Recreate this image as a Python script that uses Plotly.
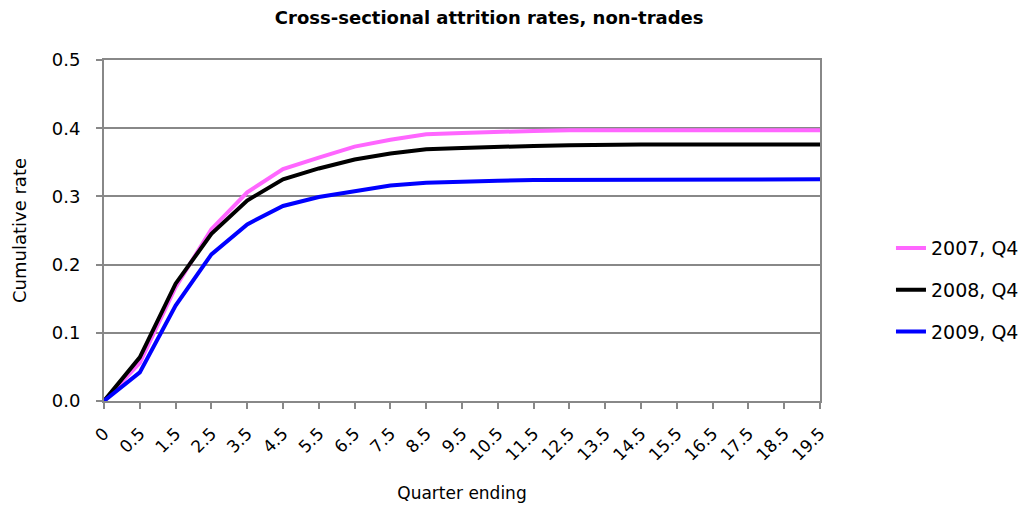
import plotly.graph_objects as go

categories = ["0", "0.5", "1.5", "2.5", "3.5", "4.5", "5.5", "6.5", "7.5", "8.5", "9.5",
              "10.5", "11.5", "12.5", "13.5", "14.5", "15.5", "16.5", "17.5", "18.5", "19.5"]
s2007 = [0, 0.056, 0.167, 0.252, 0.306, 0.340, 0.357, 0.373, 0.383, 0.391, 0.393,
         0.395, 0.396, 0.397, 0.397, 0.397, 0.397, 0.397, 0.397, 0.397, 0.397]
s2008 = [0, 0.064, 0.172, 0.245, 0.294, 0.325, 0.341, 0.354, 0.363, 0.369, 0.371,
         0.373, 0.374, 0.375, 0.376, 0.376, 0.376, 0.376, 0.376, 0.376, 0.376]
s2009 = [0, 0.042, 0.140, 0.215, 0.259, 0.286, 0.299, 0.308, 0.316, 0.320, 0.322,
         0.323, 0.324, 0.324, 0.324, 0.324, 0.324, 0.325, 0.325, 0.325, 0.325]
series_names = ["2007, Q4", "2008, Q4", "2009, Q4"]
colors = ["#FF66FF", "#000000", "#0000FF"]

FONT = "DejaVu Sans, Arial, sans-serif"
GRID = "#888888"
fig = go.Figure()
for i, (name, vals, col) in enumerate(zip(series_names, [s2007, s2008, s2009], colors)):
    fig.add_trace(go.Scatter(x=categories, y=vals, mode="lines", name=name,
                             legendgroup=f"g{i}",
                             line=dict(color=col, width=4)))

fig.update_layout(
    width=1026, height=510,
    paper_bgcolor="white", plot_bgcolor="white",
    margin=dict(l=104, r=206, t=60, b=109),
    title=dict(text="<b>Cross-sectional attrition rates, non-trades</b>",
               xref="paper", x=0.538, xanchor="center",
               yref="container", y=0.965, yanchor="middle",
               font=dict(family=FONT, size=18, color="black")),
    font=dict(family=FONT, color="black"),
    legend=dict(xref="container", yref="container",
                x=0.8684, y=0.431, xanchor="left", yanchor="middle",
                font=dict(size=19, family=FONT), tracegroupgap=14,
                bgcolor="rgba(0,0,0,0)"),
    showlegend=True,
)
fig.update_xaxes(type="category", range=[0, 20], automargin=False,
                 tickangle=-45, tickfont=dict(size=17, family=FONT),
                 ticks="outside", ticklen=6, tickcolor=GRID, tickwidth=1.5,
                 ticklabelstandoff=8,
                 showline=True, linecolor=GRID, linewidth=2, mirror=True,
                 showgrid=False,
                 title=dict(text="Quarter ending", font=dict(size=17, family=FONT), standoff=24))
fig.update_yaxes(range=[0, 0.5], dtick=0.1, tickformat=".1f", automargin=False,
                 tickfont=dict(size=18, family=FONT),
                 ticks="outside", ticklen=6, tickcolor=GRID, tickwidth=1.5,
                 ticklabelstandoff=12,
                 showline=True, linecolor=GRID, linewidth=2, mirror=True,
                 showgrid=True, gridcolor=GRID, gridwidth=1.5,
                 zeroline=False,
                 title=dict(text="Cumulative rate", font=dict(size=18, family=FONT), standoff=20))

fig.write_html("out.html", config={"displayModeBar": False},
               post_script="document.body.style.margin='0';document.body.style.overflow='hidden';")
